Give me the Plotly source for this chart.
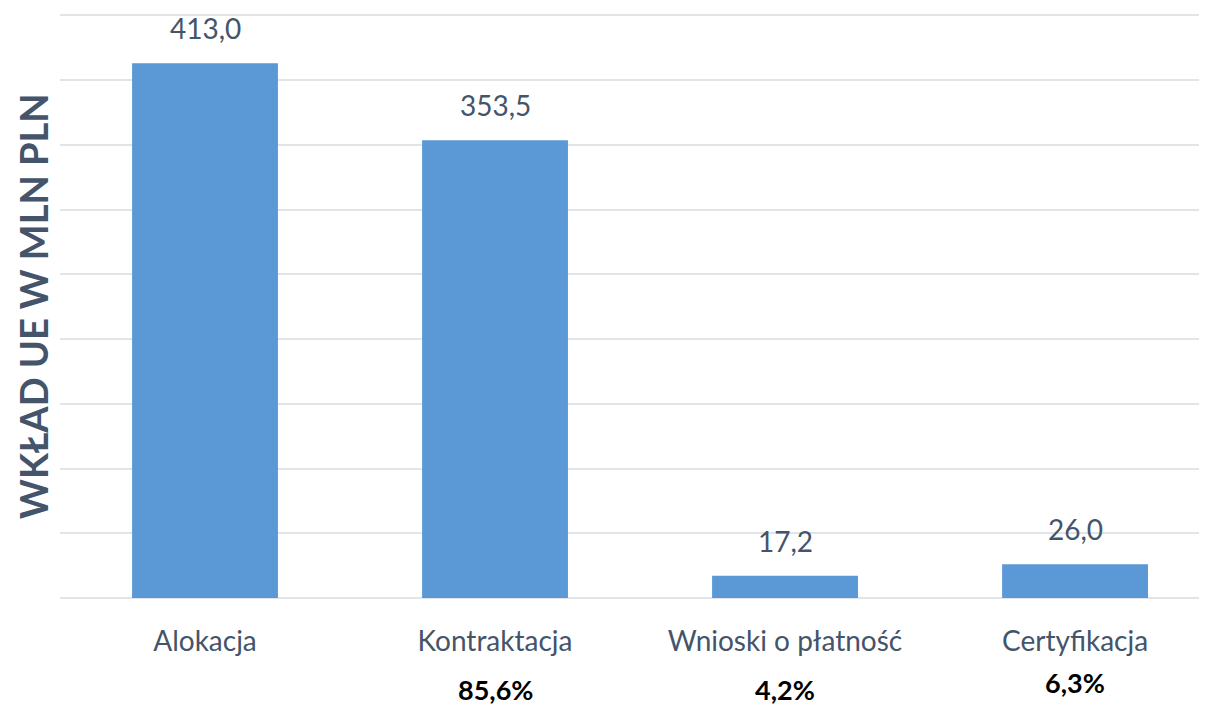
import plotly.graph_objects as go

categories = ["Alokacja", "Kontraktacja", "Wnioski o płatność", "Certyfikacja"]
values = [413.0, 353.5, 17.2, 26.0]
value_labels = ["413,0", "353,5", "17,2", "26,0"]
percent_labels = ["", "85,6%", "4,2%", "6,3%"]
percent_y = [0, -0.157, -0.157, -0.145]

TXT = "#44546A"
FONT = "Lato"

fig = go.Figure()
fig.add_trace(go.Bar(
    x=categories, y=values, width=0.503,
    marker=dict(color="#5A99D6", line=dict(width=0)),
    hoverinfo="skip",
))

annotations = []
for c, v, lab in zip(categories, values, value_labels):
    annotations.append(dict(x=c, y=v, text=lab, showarrow=False, xref="x", yref="y",
                            yanchor="bottom", yshift=16,
                            font=dict(family=FONT, size=28, color=TXT)))
for c, p, py in zip(categories, percent_labels, percent_y):
    if p:
        annotations.append(dict(x=c, y=py, text="<b>%s</b>" % p, showarrow=False,
                                xref="x", yref="paper", yanchor="middle",
                                font=dict(family=FONT, size=27, color="#000000")))
annotations.append(dict(x=-0.0235, y=0.5, xref="paper", yref="paper", showarrow=False,
                        text="<b>WKŁAD UE W MLN PLN</b>", textangle=-90,
                        xanchor="center", yanchor="middle",
                        font=dict(family=FONT, size=38, color=TXT)))

fig.update_layout(
    width=1199, height=698,
    margin=dict(l=52, r=0, t=6, b=108),
    paper_bgcolor="white", plot_bgcolor="white",
    showlegend=False,
    separators=", ",
    annotations=annotations,
    xaxis=dict(range=[-0.5, 3.455], showgrid=False, showline=False, zeroline=False,
               ticks="", ticklabelstandoff=24, automargin=False,
               tickfont=dict(family=FONT, size=28, color=TXT)),
    yaxis=dict(range=[0, 451], dtick=50, showticklabels=False, ticks="",
               automargin=False,
               showgrid=True, gridcolor="#E1E4E9", gridwidth=1.5,
               zeroline=True, zerolinecolor="#E1E4E9", zerolinewidth=1.5),
)

fig.write_html("out.html")
